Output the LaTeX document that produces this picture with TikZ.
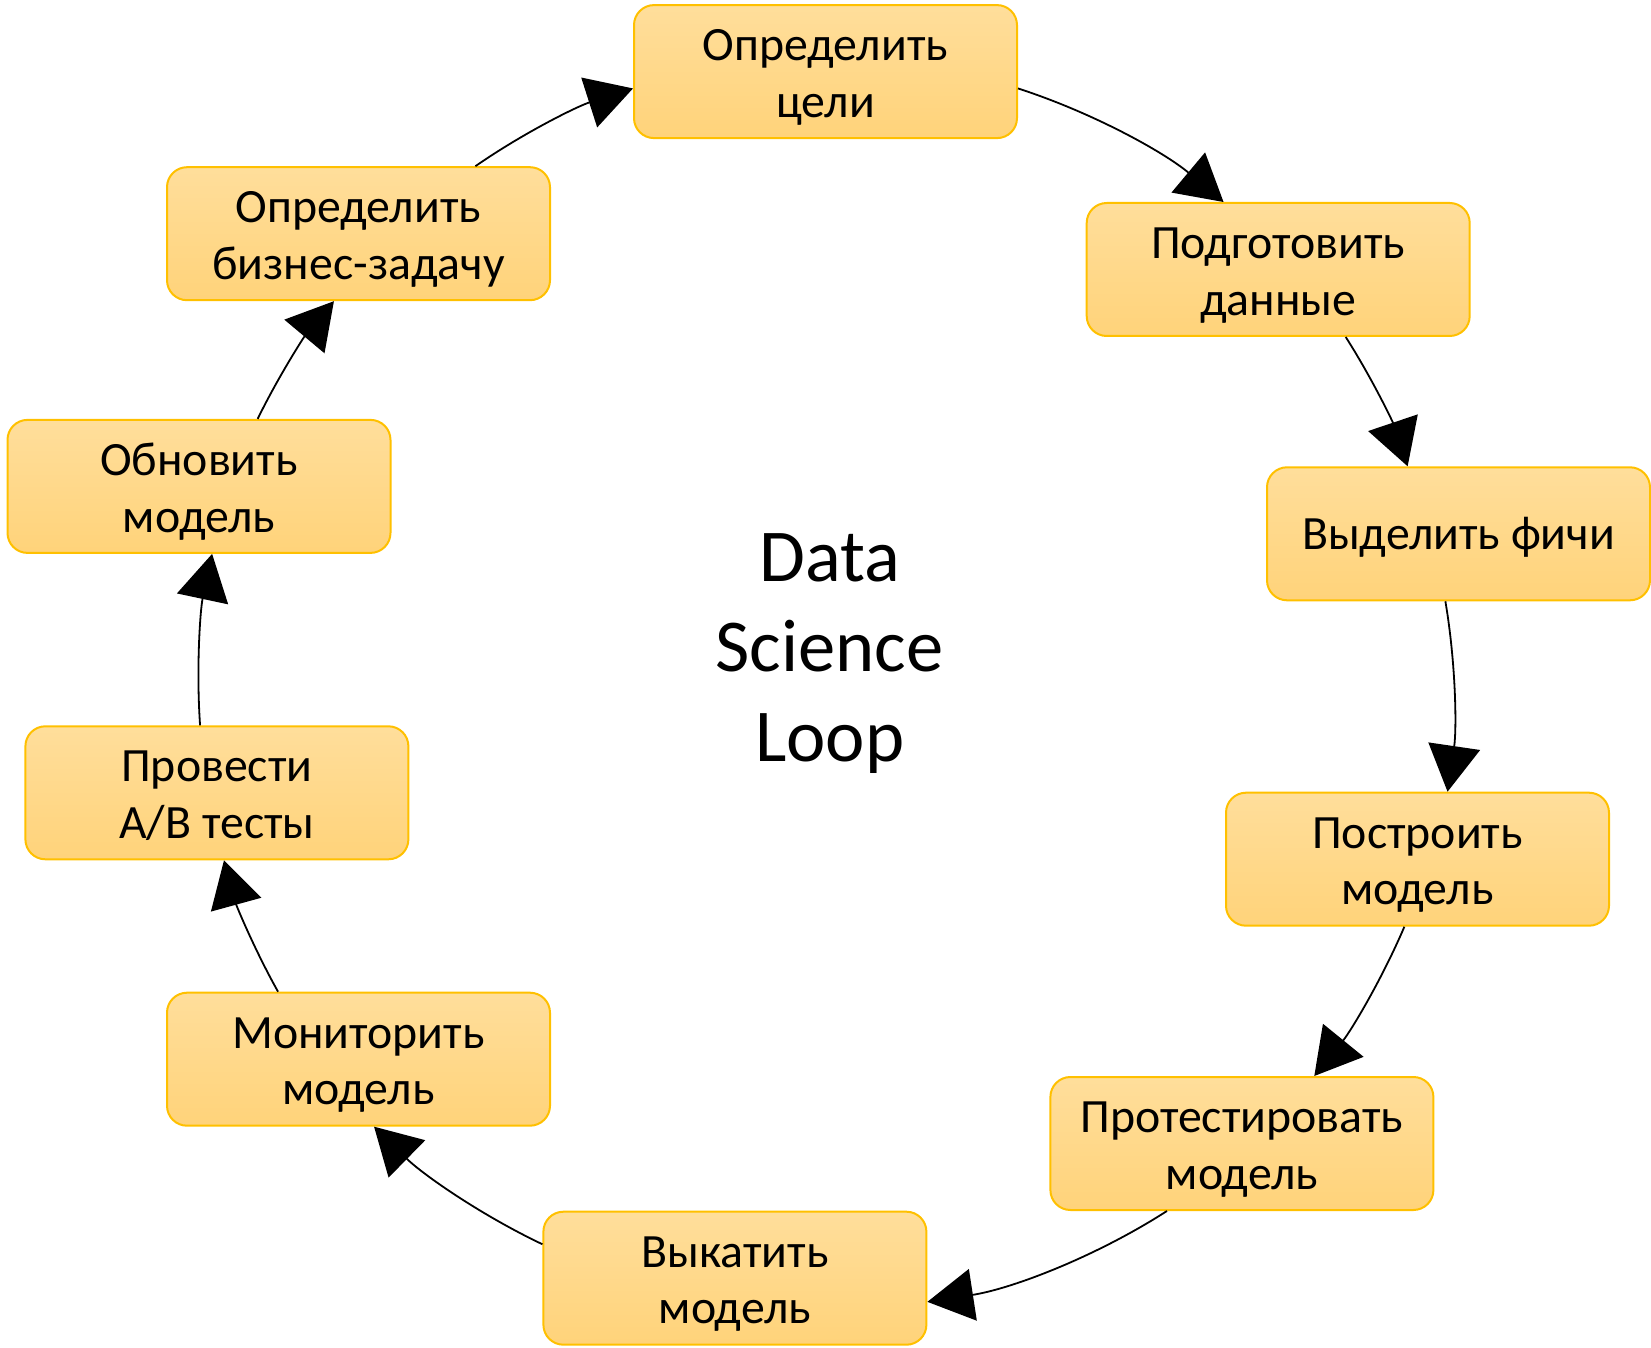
\documentclass[tikz,border=0pt]{standalone}
\usepackage{fontspec}
\setmainfont{Carlito}
\usetikzlibrary{arrows.meta}

\begin{document}
\begin{tikzpicture}[x=0.5pt, y=-0.5pt]
    \definecolor{stagetop}{RGB}{255,222,155}
    \definecolor{stagebottom}{RGB}{255,211,122}
    \definecolor{stageedge}{RGB}{255,192,0}

    \tikzset{
        stage/.style={draw=stageedge, line width=1pt, top color=stagetop, bottom color=stagebottom, rounded corners=10pt, minimum width=191.5pt, minimum height=66.5pt, align=center, font=\fontsize{23.9}{28.4}\selectfont, text height=50.2pt, text depth=4.6pt},
        flow/.style={line width=0.9pt, -{Triangle[length=23pt, width=26pt]}, looseness=0.85}
    }

    \useasboundingbox (0,0) rectangle (1651,1348);

    % Stages of the loop, clockwise from the top
    \node[stage] (goal) at (825.5,71.6) {Определить\\цели};
    \node[stage] (prep) at (1278.2,269.5) {Подготовить\\данные};
    \node[stage, text height=19.8pt] (feats) at (1458.5,533.8) {Выделить фичи};
    \node[stage] (build) at (1417.5,859.2) {Построить\\модель};
    \node[stage] (testm) at (1241.9,1143.5) {Протестировать\\модель};
    \node[stage] (deploy) at (734.9,1278.2) {Выкатить\\модель};
    \node[stage] (monitor) at (358.5,1059.2) {Мониторить\\модель};
    \node[stage] (abtest) at (216.9,792.8) {Провести\\A/B тесты};
    \node[stage] (update) at (199,486.4) {Обновить\\модель};
    \node[stage] (business) at (358.5,233.7) {Определить\\бизнес-задачу};

    % Title in the middle
    \node[font=\fontsize{37.3}{45}\selectfont, align=center] (title) at (829.7,654) {Data\\Science\\Loop};

    % Arcs between the stages
    \draw[flow] (goal.-5) to[bend left=11] (prep.129);
    \draw[flow] (prep.-45) to[bend left=7] (feats.127);
    \draw[flow] (feats.-101) to[bend left=9] (build.66);
    \draw[flow] (build.-101) to[bend left=8] (testm.43);
    \draw[flow] (testm.-138) to[bend left=12] (deploy.-7);
    \draw[flow] (deploy.170) to[bend left=9.5] (monitor.-77);
    \draw[flow] (monitor.140) to[bend left=7] (abtest.-84);
    \draw[flow] (abtest.104) to[bend left=8] (update.-79);
    \draw[flow] (update.49) to[bend left=7] (business.-110);
    \draw[flow] (business.30) to[bend left=8.5] (goal.-175);
\end{tikzpicture}
\end{document}
